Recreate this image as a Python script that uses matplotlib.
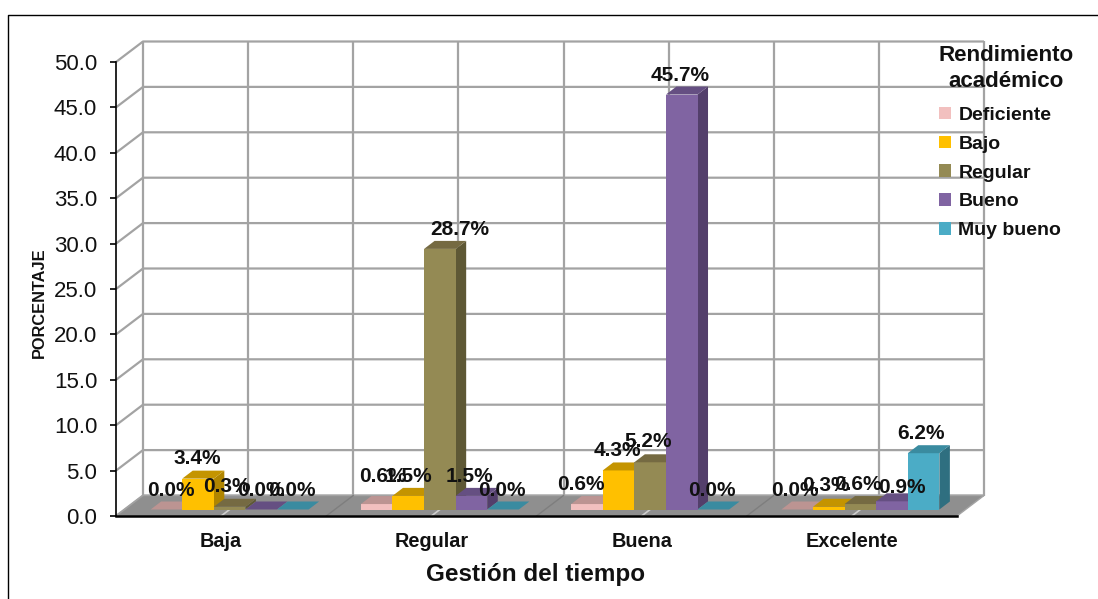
import matplotlib
matplotlib.use("Agg")
import matplotlib.pyplot as plt
from matplotlib.patches import Polygon, Patch
from matplotlib.lines import Line2D

plt.rcParams['font.family'] = ['Liberation Sans', 'DejaVu Sans']

# ---- data ----
categories = ['Baja', 'Regular', 'Buena', 'Excelente']
series_names = ['Deficiente', 'Bajo', 'Regular', 'Bueno', 'Muy bueno']
deficiente = [0.0, 0.6, 0.6, 0.0]
bajo = [3.4, 1.5, 4.3, 0.3]
regular = [0.3, 28.7, 5.2, 0.6]
bueno = [0.0, 1.5, 45.7, 0.9]
muy_bueno = [0.0, 0.0, 0.0, 6.2]
series_values = [deficiente, bajo, regular, bueno, muy_bueno]
y_ticks = [0, 5, 10, 15, 20, 25, 30, 35, 40, 45, 50]

# ---- styles: front, top, side ----
front = ['#F2C0BF', '#FFC000', '#948A54', '#8064A2', '#4BACC6']
top = ['#BC9492', '#C49400', '#756A42', '#654F82', '#3A8BA0']
side = ['#A88382', '#B08500', '#5E5835', '#533F6B', '#2F6F80']
GRID = '#A3A3A3'
FLOOR = '#8F8F8F'

# label offsets (pixels from the bar's back top edge), one per bar
label_nudge = [
    [(4.6, 11), (-1, 12), (-2.6, 12.3), (0, 11), (-1, 11)],
    [(6.4, 19.6), (0, 11.4), (20.2, 11.4), (-2.4, 11.4), (-1, 11)],
    [(-6, 11.6), (-1.5, 12), (-2, 12.8), (-1.7, 11), (-1.3, 11)],
    [(-2, 11), (-2.7, 13.3), (-2.3, 11.6), (10, 5.8), (-2.5, 11.7)],
]

W, H = 1098, 599
fig = plt.figure(figsize=(W / 100, H / 100), dpi=100, facecolor='white')
L, R, B, T = 116, 957, 516, 62
ax = fig.add_axes([L / W, 1 - B / H, (R - L) / W, (B - T) / H])
ax.set_xlim(0, len(categories))
ax.set_ylim(0, 50)
ax.patch.set_visible(False)

px_x = len(categories) / (R - L)
px_y = 50 / (B - T)
wall_dx, wall_dy = 27 * px_x, 20.5 * px_y
gap_dx, gap_dy = 8.5 * px_x, 6.5 * px_y
bar_dx, bar_dy = 10.5 * px_x, 8 * px_y
bar_w = 31.6 * px_x

ln = dict(color=GRID, lw=1.6, clip_on=False, zorder=1, solid_capstyle='butt')
# walls
for v in y_ticks:
    ax.plot([0, wall_dx, len(categories) + wall_dx],
            [v, v + wall_dy, v + wall_dy], **ln)
for k in range(len(categories) * 2 + 1):
    xk = k / 2 + wall_dx
    ax.plot([xk, xk], [wall_dy, 50 + wall_dy], **ln)
# floor
n = len(categories)
ax.add_patch(Polygon([(0, 0), (n, 0), (n + wall_dx, wall_dy), (wall_dx, wall_dy)],
                     closed=True, fc=FLOOR, ec=GRID, lw=1.0, clip_on=False, zorder=2))
for i in range(1, n):
    ax.plot([i, i + wall_dx], [0, wall_dy], color='#7E7E7E', lw=1, clip_on=False, zorder=3)
for i in range(n):
    ax.plot([i + .5, i + .5 + gap_dx], [0, gap_dy], color='#CFCFCF', lw=1.2, clip_on=False, zorder=3)

# bars
z = 4
for i in range(n):
    for k in range(len(series_values)):
        v = series_values[k][i]
        x0 = i + .5 + gap_dx + (k - 2.5) * bar_w
        x1 = x0 + bar_w
        y0, y1 = gap_dy, gap_dy + v
        common = dict(closed=True, lw=0, clip_on=False, zorder=z)
        ax.add_patch(Polygon([(x1, y0), (x1 + bar_dx, y0 + bar_dy), (x1 + bar_dx, y1 + bar_dy), (x1, y1)],
                             fc=side[k], **common))
        ax.add_patch(Polygon([(x0, y0), (x1, y0), (x1, y1), (x0, y1)], fc=front[k], **common))
        ax.add_patch(Polygon([(x0, y1), (x1, y1), (x1 + bar_dx, y1 + bar_dy), (x0 + bar_dx, y1 + bar_dy)],
                             fc=top[k], **common))
        z += 1

# data labels
for i in range(n):
    for k in range(len(series_values)):
        v = series_values[k][i]
        xc = i + .5 + gap_dx + (k - 2) * bar_w
        ax.annotate(f'{v:.1f}%', xy=(xc, gap_dy + v + bar_dy),
                    xytext=label_nudge[i][k], textcoords='offset pixels',
                    ha='center', va='center', fontsize=15, fontweight='bold',
                    color='#111111', annotation_clip=False, zorder=200)

# axes
for s in ('top', 'right'):
    ax.spines[s].set_visible(False)
ax.spines['left'].set_linewidth(1.2)
ax.spines['bottom'].set_linewidth(1.8)
ax.spines['left'].set_zorder(150)
ax.spines['bottom'].set_zorder(150)
ax.set_yticks(y_ticks)
ax.set_yticklabels([f'{v:.1f}' for v in y_ticks], fontsize=16, color='#111111')
ax.tick_params(axis='y', length=4.3, width=1.2, pad=9.2)
ax.set_xticks([i + .5 for i in range(n)])
ax.set_xticklabels(categories, fontsize=14.3, fontweight='bold', color='#111111')
ax.tick_params(axis='x', length=0, pad=11.2)
fig.text(536 / W, 1 - 574 / H, 'Gestión del tiempo', ha='center', va='center',
         fontsize=17.5, fontweight='bold', color='#111111')
fig.text(39.5 / W, 1 - 302.5 / H, 'PORCENTAJE', rotation=90, ha='center', va='center',
         fontsize=11.8, fontweight='bold', color='#111111')

# legend
handles = [Patch(fc=c, ec='none') for c in front]
leg = fig.legend(handles, series_names, title='Rendimiento\nacadémico',
                 loc='upper left', bbox_to_anchor=(938.5 / W, 1 - 45 / H),
                 frameon=False, prop=dict(weight='bold', size=14),
                 alignment='left',
                 handlelength=0.62, handleheight=0.62, handletextpad=0.4,
                 labelspacing=0.6, borderpad=0, borderaxespad=0)
leg.get_title().set_fontsize(16.1)
leg.get_title().set_fontweight('bold')
leg.get_title().set_multialignment('center')
leg.get_title().set_linespacing(1.3)
leg.get_title().set_color('#111111')
leg._legend_box.sep = 10.8
for t in leg.get_texts():
    t.set_color('#111111')

# outer frame
fig.add_artist(Line2D([7.5 / W, 7.5 / W, 1], [0, 1 - 14.5 / H, 1 - 14.5 / H],
                      color='black', lw=1, transform=fig.transFigure))

fig.savefig('out.png', dpi=100)
